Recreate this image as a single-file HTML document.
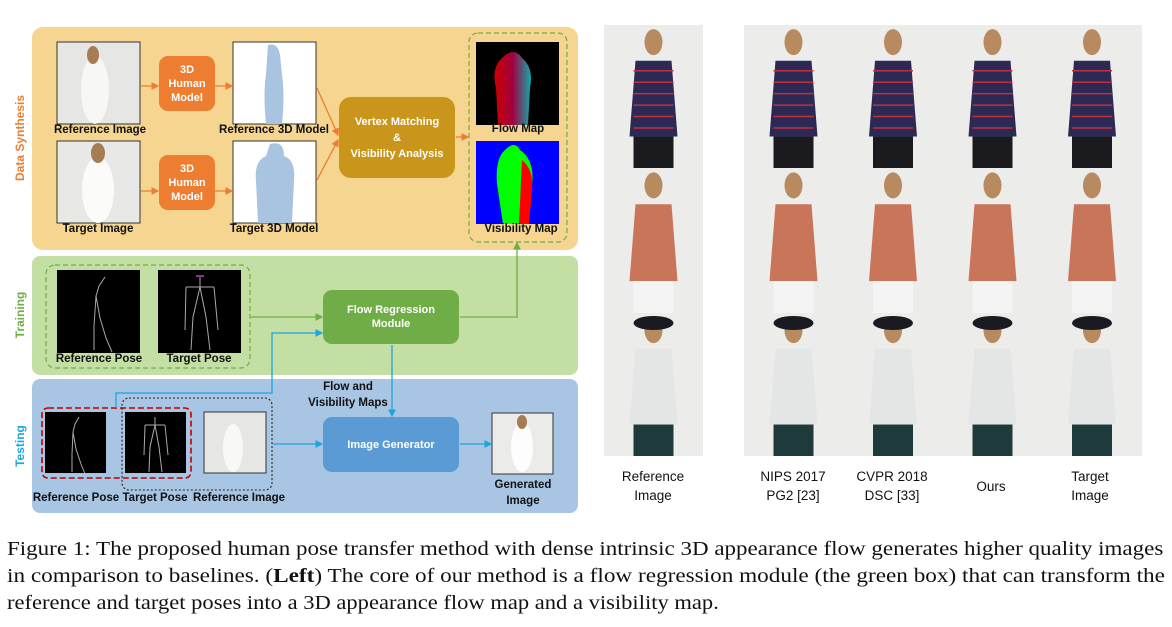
<!DOCTYPE html>
<html><head><meta charset="utf-8">
<style>
body{margin:0;background:#fff;width:1172px;height:627px;overflow:hidden;position:relative;font-family:"Liberation Sans",sans-serif}
.abs{position:absolute}
.lbl{position:absolute;font-weight:bold;font-size:11.5px;color:#111;white-space:nowrap;transform:translateX(-50%)}
.box{position:absolute;border-radius:9px;color:#fff;font-weight:bold;font-size:11px;display:flex;align-items:center;justify-content:center;text-align:center;line-height:14px}
.cap{position:absolute;left:7px;font-family:"Liberation Serif",serif;font-size:20px;color:#111;white-space:nowrap;transform-origin:0 0}
.col{position:absolute;font-size:13.5px;text-align:center;line-height:19px;color:#111;transform:translateX(-50%);white-space:nowrap}
</style></head><body>
<div class="abs" style="left:32px;top:27px;width:546px;height:223px;background:#f5d58f;border-radius:11px"></div>
<div class="abs" style="left:32px;top:256px;width:546px;height:119px;background:#c3dfa3;border-radius:8px"></div>
<div class="abs" style="left:32px;top:379px;width:546px;height:134px;background:#a8c6e3;border-radius:8px"></div>

<div class="abs" style="left:20px;top:138px;transform:translate(-50%,-50%) rotate(-90deg);color:#ed7d31;font-weight:bold;font-size:12px;white-space:nowrap">Data Synthesis</div>
<div class="abs" style="left:20px;top:315px;transform:translate(-50%,-50%) rotate(-90deg);color:#70ad47;font-weight:bold;font-size:12px">Training</div>
<div class="abs" style="left:20px;top:446px;transform:translate(-50%,-50%) rotate(-90deg);color:#1fa4e0;font-weight:bold;font-size:12px">Testing</div>

<svg class="abs" style="left:0;top:0" width="600" height="520">
<defs>
<marker id="ao" markerWidth="6" markerHeight="6" refX="5" refY="3" orient="auto"><path d="M0,0L6,3L0,6z" fill="#ed7d31"/></marker>
<marker id="ag" markerWidth="6" markerHeight="6" refX="5" refY="3" orient="auto"><path d="M0,0L6,3L0,6z" fill="#70ad47"/></marker>
<marker id="ab" markerWidth="6" markerHeight="6" refX="5" refY="3" orient="auto"><path d="M0,0L6,3L0,6z" fill="#1fa4e0"/></marker>
<linearGradient id="fl" x1="0" x2="1"><stop offset="0" stop-color="#c00"/><stop offset=".5" stop-color="#a00040"/><stop offset="1" stop-color="#1aa"/></linearGradient>
</defs>
<rect x="57" y="42" width="83" height="82" fill="#e6e6e4" stroke="#333"/>
<ellipse cx="95" cy="90" rx="14" ry="34" fill="#f7f7f5"/><ellipse cx="93" cy="55" rx="6" ry="9" fill="#a67c55"/>
<rect x="57" y="141" width="83" height="82" fill="#e8e8e6" stroke="#333"/>
<ellipse cx="98" cy="190" rx="16" ry="33" fill="#fbfbfa"/><ellipse cx="98" cy="153" rx="7" ry="10" fill="#a67c55"/>
<rect x="233" y="42" width="83" height="82" fill="#fff" stroke="#333"/>
<path d="M268,45 q10,-3 12,10 l2,20 q3,20 0,49 l-16,0 q-3,-30 0,-50 z" fill="#a9c4e0"/>
<rect x="233" y="141" width="83" height="82" fill="#fff" stroke="#333"/>
<path d="M270,144 q14,-4 14,12 q12,4 10,25 l-2,42 l-34,0 l-2,-42 q-2,-20 10,-25 z" fill="#a9c4e0"/>
<rect x="476" y="42" width="83" height="83" fill="#000"/>
<path d="M502,58 q12,-12 20,0 q12,10 8,30 l-2,37 l-30,0 l-2,-37 q-5,-20 6,-30z" fill="url(#fl)"/>
<rect x="476" y="141" width="83" height="83" fill="#0000ff"/>
<path d="M505,150 q10,-10 15,0 q15,10 12,35 l-4,39 l-25,0 l-6,-40 q-2,-25 8,-34z" fill="#00ff00"/>
<path d="M522,160 q12,10 10,30 l-3,34 l-10,0 z" fill="#ff0000"/>
<rect x="469" y="33" width="98" height="209" rx="9" fill="none" stroke="#70ad47" stroke-width="1.2" stroke-dasharray="5,3"/>
<g stroke="#ed7d31" stroke-width="1.3" fill="none">
<line x1="141" y1="86" x2="158" y2="86" marker-end="url(#ao)"/>
<line x1="215" y1="86" x2="232" y2="86" marker-end="url(#ao)"/>
<line x1="141" y1="191" x2="158" y2="191" marker-end="url(#ao)"/>
<line x1="215" y1="191" x2="232" y2="191" marker-end="url(#ao)"/>
<line x1="317" y1="88" x2="338" y2="135" marker-end="url(#ao)"/>
<line x1="317" y1="180" x2="338" y2="140" marker-end="url(#ao)"/>
<line x1="456" y1="137" x2="468" y2="137" marker-end="url(#ao)"/>
</g>
<rect x="46" y="265" width="204" height="103" rx="9" fill="none" stroke="#70ad47" stroke-width="1.2" stroke-dasharray="5,3"/>
<rect x="57" y="270" width="83" height="83" fill="#000"/>
<path d="M105,277 l-6,9 l-3,10 l4,22 l6,20 l6,14 M96,296 l-2,30 l0,24" stroke="#aaa" stroke-width="1" fill="none"/>
<rect x="158" y="270" width="83" height="83" fill="#000"/>
<path d="M200,277 l0,10 M186,287 l28,0 M186,287 l-1,43 M214,287 l4,43 M200,287 l-7,30 l-2,33 M200,287 l6,30 l4,33" stroke="#aaa" stroke-width="1" fill="none"/>
<path d="M196,276 l8,0" stroke="#c040c0" stroke-width="1.5"/>
<g stroke="#70ad47" stroke-width="1.3" fill="none">
<line x1="251" y1="317" x2="322" y2="317" marker-end="url(#ag)"/>
<polyline points="460,317 517,317 517,243" marker-end="url(#ag)"/>
</g>
<rect x="45" y="412" width="61" height="61" fill="#000"/>
<path d="M79,417 l-4,7 l-2,8 l3,17 l5,15 l4,10 M73,432 l-1,22 l0,18" stroke="#aaa" stroke-width="1" fill="none"/>
<rect x="125" y="412" width="61" height="61" fill="#000"/>
<path d="M155,417 l0,8 M145,425 l20,0 M145,425 l-1,30 M165,425 l3,30 M155,425 l-5,22 l-1,25 M155,425 l4,22 l3,25" stroke="#aaa" stroke-width="1" fill="none"/>
<rect x="204" y="412" width="62" height="61" fill="#e6e6e4" stroke="#333"/>
<ellipse cx="233" cy="448" rx="10" ry="24" fill="#f8f8f6"/>
<rect x="492" y="413" width="61" height="61" fill="#ebebea" stroke="#333"/>
<ellipse cx="522" cy="447" rx="11" ry="25" fill="#fdfdfd"/><ellipse cx="522" cy="422" rx="5" ry="7" fill="#a67c55"/>
<rect x="42" y="408" width="149" height="70" rx="6" fill="none" stroke="#c00000" stroke-width="1.6" stroke-dasharray="6,3"/>
<rect x="122" y="398" width="150" height="92" rx="7" fill="none" stroke="#222" stroke-width="1.1" stroke-dasharray="2,2"/>
<g stroke="#1fa4e0" stroke-width="1.3" fill="none">
<polyline points="116,408 116,393 272,393 272,333 322,333" marker-end="url(#ab)"/>
<line x1="392" y1="345" x2="392" y2="416" marker-end="url(#ab)"/>
<line x1="273" y1="444" x2="322" y2="444" marker-end="url(#ab)"/>
<line x1="460" y1="444" x2="491" y2="444" marker-end="url(#ab)"/>
</g>
</svg>

<div class="box" style="left:159px;top:56px;width:56px;height:55px;background:#ed7d31">3D<br>Human<br>Model</div>
<div class="box" style="left:159px;top:155px;width:56px;height:55px;background:#ed7d31">3D<br>Human<br>Model</div>
<div class="box" style="left:339px;top:97px;width:116px;height:81px;background:#c9961b;border-radius:12px;line-height:16px">Vertex Matching<br>&amp;<br>Visibility Analysis</div>
<div class="box" style="left:323px;top:290px;width:136px;height:54px;background:#70ad47">Flow Regression<br>Module</div>
<div class="box" style="left:323px;top:417px;width:136px;height:55px;background:#5b9bd5">Image Generator</div>

<div class="lbl" style="left:100px;top:124px">Reference Image</div>
<div class="lbl" style="left:98px;top:223px">Target Image</div>
<div class="lbl" style="left:274px;top:124px">Reference 3D Model</div>
<div class="lbl" style="left:274px;top:223px">Target 3D Model</div>
<div class="lbl" style="left:518px;top:123px">Flow Map</div>
<div class="lbl" style="left:521px;top:223px">Visibility Map</div>
<div class="lbl" style="left:99px;top:353px">Reference Pose</div>
<div class="lbl" style="left:199px;top:353px">Target Pose</div>
<div class="lbl" style="left:348px;top:379px;text-align:center;line-height:16px">Flow and<br>Visibility Maps</div>
<div class="lbl" style="left:76px;top:492px">Reference Pose</div>
<div class="lbl" style="left:155px;top:492px">Target Pose</div>
<div class="lbl" style="left:239px;top:492px">Reference Image</div>
<div class="lbl" style="left:523px;top:477px;text-align:center;line-height:16px">Generated<br>Image</div>

<svg class="abs" id="photos" style="left:0;top:0" width="1172" height="470"></svg>

<div class="col" style="left:653px;top:467px">Reference<br>Image</div>
<div class="col" style="left:793px;top:467px">NIPS 2017<br>PG2 [23]</div>
<div class="col" style="left:892px;top:467px">CVPR 2018<br>DSC [33]</div>
<div class="col" style="left:991px;top:477px">Ours</div>
<div class="col" style="left:1090px;top:467px">Target<br>Image</div>

<div class="cap" style="top:538px;transform:scaleX(1.15)">Figure 1: The proposed human pose transfer method with dense intrinsic 3D appearance flow generates higher quality images</div>
<div class="cap" style="top:565px;transform:scaleX(1.16)">in comparison to baselines. (<b>Left</b>) The core of our method is a flow regression module (the green box) that can transform the</div>
<div class="cap" style="top:592px;transform:scaleX(1.127)">reference and target poses into a 3D appearance flow map and a visibility map.</div>

<script>
const colX=[604,744,843,943,1042];
const colW=[99,99,100,99,100];
const rowY=[25,168,313];
const rowH=[143,145,143];
const svg=document.getElementById('photos');
const NS='http://www.w3.org/2000/svg';
function mk(t,a){const e=document.createElementNS(NS,t);for(const k in a)e.setAttribute(k,a[k]);svg.appendChild(e);return e;}
const tops=['#2c2a55','#c8755a','#e4e6e6'],bots=['#1a1a1f','#f4f4f4','#1f3a3a'];
for(let r=0;r<3;r++)for(let c=0;c<5;c++){
 const x=colX[c],y=rowY[r],w=colW[c],h=rowH[r],cx=x+w/2;
 const bg=mk('rect',{x:x,y:y,width:w,height:h,fill:'#ececea'});
 
 
 mk('ellipse',{cx:cx,cy:y+h*0.12,rx:9,ry:13,fill:'#b88a60'});
 if(r==2)mk('ellipse',{cx:cx,cy:y+h*0.07,rx:20,ry:7,fill:'#1a1a22'});
 mk('path',{d:`M${cx-18},${y+h*0.25} L${cx+18},${y+h*0.25} L${cx+24},${y+h*0.78} L${cx-24},${y+h*0.78} Z`,fill:tops[r]});
 mk('rect',{x:cx-20,y:y+h*0.78,width:40,height:h*0.22,fill:bots[r]});
 if(r==0)for(let i=0;i<6;i++)mk('line',{x1:cx-20,x2:cx+20,y1:y+h*(0.32+i*0.08),y2:y+h*(0.32+i*0.08),stroke:'#c0303a','stroke-width':1.5});
}
</script>
</body></html>
